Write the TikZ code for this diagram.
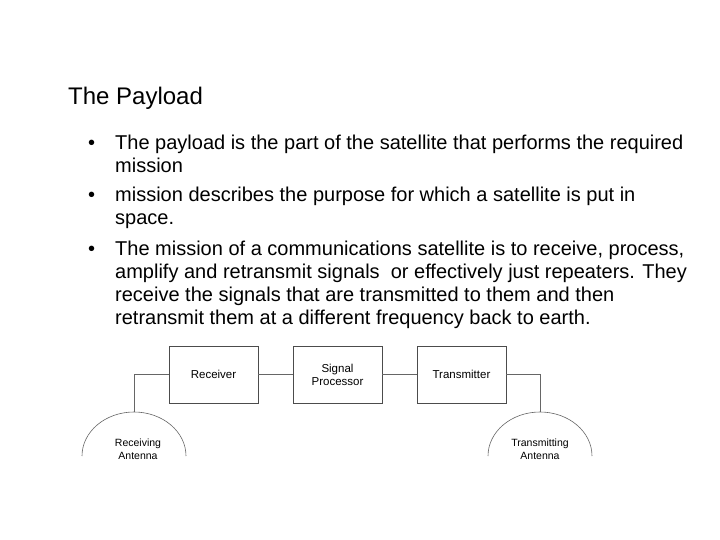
\documentclass[tikz,border=0pt]{standalone}
\usepackage{fontspec}
\setmainfont{Liberation Sans}
\begin{document}
\begin{tikzpicture}[x=1pt,y=-1pt,
  line/.style={anchor=base west,font=\fontsize{20}{22}\selectfont,inner sep=0pt},
  blk/.style={draw=black!70,line width=0.6pt,minimum width=89pt,minimum height=57pt,font=\fontsize{11.5}{13}\selectfont,align=center},
  wire/.style={draw=black!60,line width=0.6pt},
  lbl/.style={font=\fontsize{10.5}{12.5}\selectfont,align=center}]
\useasboundingbox (0,0) rectangle (720,540);
\node[line,font=\fontsize{24}{26}\selectfont] (title) at (68,105) {The Payload};
\node[line] (b1) at (88,150) {•};
\node[line] (l1) at (115,150) {The payload is the part of the satellite that performs the required};
\node[line] (l2) at (115,173) {mission};
\node[line] (b2) at (88,202) {•};
\node[line] (l3) at (115,202) {mission describes the purpose for which a satellite is put in};
\node[line] (l4) at (115,225) {space.};
\node[line] (b3) at (88,255) {•};
\node[line] (l5) at (115,255) {The mission of a communications satellite is to receive, process,};
\node[line] (l6) at (115,278) {amplify and retransmit signals\ \ or effectively just repeaters. They};
\node[line] (l7) at (115,301) {receive the signals that are transmitted to them and then};
\node[line] (l8) at (115,324) {retransmit them at a different frequency back to earth.};
\node[blk] (rx) at (213.5,374.5) {Receiver};
\node[blk] (sp) at (337.5,374.5) {Signal\\Processor};
\node[blk] (tx) at (461.5,374.5) {Transmitter};
\coordinate (ra) at (134,412);
\coordinate (ta) at (540,412);
\draw[wire] (rx) -- (sp);
\draw[wire] (sp) -- (tx);
\draw[wire] (rx.west) -| (ra);
\draw[wire,line width=1pt] (tx.east) -| (ta);
\draw[wire] (82,456) arc[start angle=180,end angle=0,x radius=52,y radius=-44];
\draw[wire] (488,456) arc[start angle=180,end angle=0,x radius=52,y radius=-44];
\node[lbl] (ral) at (138,449) {Receiving\\Antenna};
\node[lbl] (tal) at (540,449) {Transmitting\\Antenna};
\end{tikzpicture}
\end{document}
